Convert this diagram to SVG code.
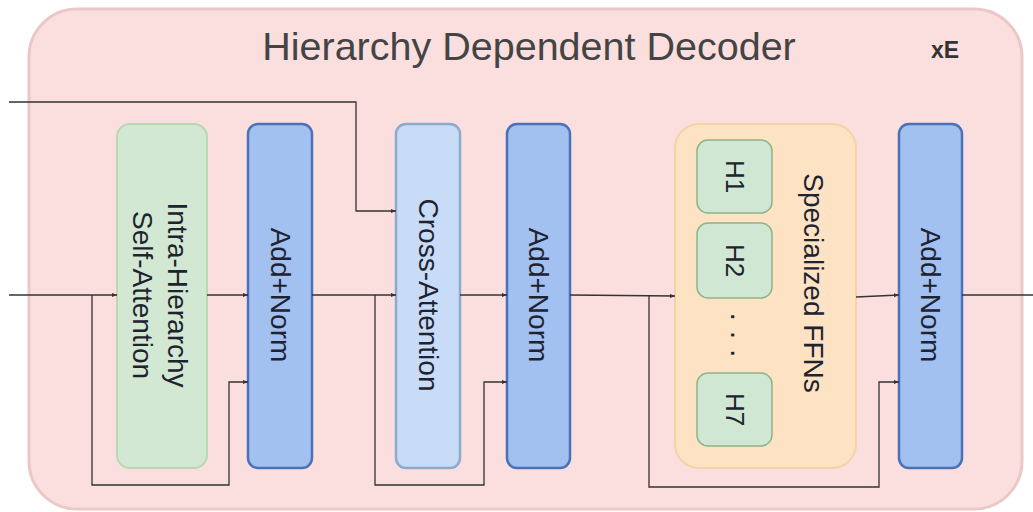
<svg xmlns="http://www.w3.org/2000/svg" width="1033" height="512" viewBox="0 0 1033 512">
  <style>
    .lbl { font-family: "Liberation Sans", Arial, sans-serif; font-size: 28px; fill: #1e2330; text-anchor: middle; dominant-baseline: central; }
    .h { font-size: 26px; }
    .dots { font-size: 30px; }
    .wire { fill: none; stroke: #333; stroke-width: 1.3; }
    .arr { marker-end: url(#head); }
    .norm { fill: #a2c0f0; stroke: #4b72b8; stroke-width: 2.5; }
    .hbox { fill: #d0e8d3; stroke: #8fb487; stroke-width: 1.5; }
  </style>
  <defs>
    <marker id="head" viewBox="0 0 10 10" refX="10" refY="5" markerWidth="5" markerHeight="5" markerUnits="userSpaceOnUse" orient="auto">
      <path d="M0,1 L10,5 L0,9 z" fill="#333"/>
    </marker>
  </defs>

  <!-- decoder frame -->
  <g id="decoder">
    <rect x="29" y="9" width="993" height="500" rx="48" fill="#fbdfdf" stroke="#ecc7c8" stroke-width="3"/>
    <text x="529" y="60" font-family="'Liberation Sans', Arial, sans-serif" font-size="39.5" fill="#444" text-anchor="middle">Hierarchy Dependent Decoder</text>
    <text x="945" y="58" font-family="'Liberation Sans', Arial, sans-serif" font-size="23" font-weight="bold" fill="#333" text-anchor="middle">xE</text>
  </g>

  <g id="self-attention">
    <rect x="117" y="124" width="90" height="344" rx="13" fill="#d3e8d2" stroke="#b9d8b3" stroke-width="2"/>
    <g transform="translate(160,295) rotate(90)">
      <text class="lbl" x="0" y="-17.5">Intra-Hierarchy</text>
      <text class="lbl" x="0" y="17.5">Self-Attention</text>
    </g>
  </g>

  <g id="add-norm-1">
    <rect class="norm" x="248" y="124" width="64" height="344" rx="10"/>
    <text class="lbl" transform="translate(280,295) rotate(90)">Add+Norm</text>
  </g>

  <g id="cross-attention">
    <rect x="396" y="124" width="64" height="344" rx="10" fill="#c8dbf7" stroke="#8eaacd" stroke-width="2.5"/>
    <text class="lbl" transform="translate(428,295) rotate(90)">Cross-Attention</text>
  </g>

  <g id="add-norm-2">
    <rect class="norm" x="507" y="124" width="63" height="344" rx="10"/>
    <text class="lbl" transform="translate(538.5,295) rotate(90)">Add+Norm</text>
  </g>

  <g id="specialized-ffns">
    <rect x="675" y="124" width="181" height="344" rx="24" fill="#fde3c4" stroke="#f5d3a6" stroke-width="2"/>
    <text class="lbl" transform="translate(813,283) rotate(90)">Specialized FFNs</text>
    <g id="h1">
      <rect class="hbox" x="697" y="140" width="75" height="73" rx="11"/>
      <text class="lbl h" transform="translate(734.5,176.5) rotate(90)">H1</text>
    </g>
    <g id="h2">
      <rect class="hbox" x="697" y="223" width="75" height="75" rx="11"/>
      <text class="lbl h" transform="translate(734.5,260.5) rotate(90)">H2</text>
    </g>
    <text class="lbl dots" transform="translate(735,335) rotate(90)">· · ·</text>
    <g id="h7">
      <rect class="hbox" x="697" y="373" width="75" height="73" rx="11"/>
      <text class="lbl h" transform="translate(734.5,409.5) rotate(90)">H7</text>
    </g>
  </g>

  <g id="add-norm-3">
    <rect class="norm" x="899" y="124" width="63" height="344" rx="10"/>
    <text class="lbl" transform="translate(930.5,295) rotate(90)">Add+Norm</text>
  </g>

  <!-- connectors -->
  <g id="connectors">
    <path class="wire arr" d="M9,102 H356 V211 H396"/>
    <path class="wire arr" d="M9,295 H117"/>
    <path class="wire arr" d="M92,295 V485 H229 V382 H248"/>
    <path class="wire arr" d="M207,295 H248"/>
    <path class="wire arr" d="M312,295 H396"/>
    <path class="wire arr" d="M375,295 V485 H484 V382 H507"/>
    <path class="wire arr" d="M460,295 H507"/>
    <path class="wire arr" d="M570,295 L675,296"/>
    <path class="wire arr" d="M649,296 V487 H879 V382 H899"/>
    <path class="wire arr" d="M856,297 L899,295"/>
    <path class="wire" d="M962,295 H1033"/>
  </g>
</svg>
